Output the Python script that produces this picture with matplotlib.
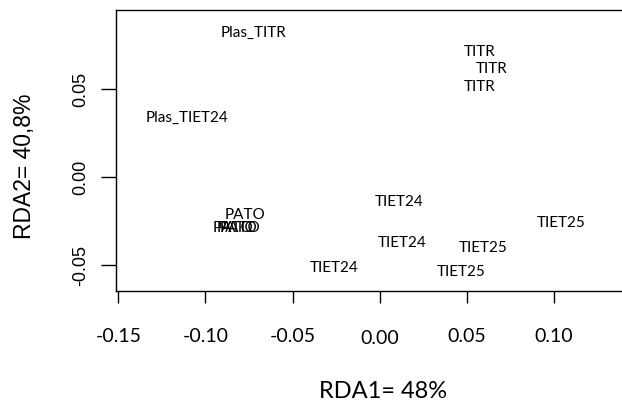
import matplotlib
matplotlib.use("Agg")
import matplotlib.pyplot as plt
import matplotlib.transforms as mtransforms

# Etiquetas y coordenadas RDA
etiquetas = ["Plas_TITR", "Plas_TIET24", "PATO", "PATO", "PATO", "PATO",
             "TIET24", "TIET24", "TIET24", "TIET25", "TIET25", "TIET25",
             "TITR", "TITR", "TITR"]
rda1 = [-0.0723, -0.1106, -0.0774, -0.0839, -0.0821, -0.0804,
        -0.0262, 0.0114, 0.0127, 0.0595, 0.0467, 0.1041,
        0.0576, 0.0644, 0.0576]
rda2 = [0.0821, 0.0337, -0.0216, -0.0288, -0.0288, -0.0288,
        -0.0518, -0.0140, -0.0377, -0.0405, -0.0539, -0.0263,
        0.0714, 0.0616, 0.0515]

xticks = [-0.15, -0.10, -0.05, 0.00, 0.05, 0.10]
yticks = [-0.05, 0.00, 0.05]

fig = plt.figure(figsize=(6.22, 4.01), dpi=100)
ax = fig.add_axes([0.186, 0.2743, 0.814, 0.7007])

for lab, x, y in zip(etiquetas, rda1, rda2):
    ax.text(x, y, lab, ha='center', va='center', fontsize=11, family='Lato')

ax.set_xlim(-0.1515, 0.1391)
ax.set_ylim(-0.0648, 0.0952)
ax.spines['right'].set_visible(False)
for s in ['left', 'top', 'bottom']:
    ax.spines[s].set_linewidth(1.0)

ax.set_xticks(xticks)
ax.set_xticklabels([f"{v:.2f}" for v in xticks], family='Lato', fontsize=14)
ax.set_yticks(yticks)
ax.set_yticklabels([f"{v:.2f}" for v in yticks], family='Liberation Sans',
                   fontsize=13, rotation=90, va='center')
ax.tick_params(axis='x', length=8.6, width=1.0, pad=18)
ax.tick_params(axis='y', length=10.8, width=1.0, pad=8)

# en el original la etiqueta 0.00 está un poco más abajo
lbl0 = ax.get_xticklabels()[3]
lbl0.set_transform(lbl0.get_transform() +
                   mtransforms.ScaledTranslation(0, -2 / 100, fig.dpi_scale_trans))

fig.text(383 / 622, 1 - 391 / 401, "RDA1= 48%", ha='center', va='center',
         family='Lato', fontsize=17)
fig.text(24 / 622, 1 - 166 / 401, "RDA2= 40,8%", ha='center', va='center',
         rotation=90, family='Liberation Sans', fontsize=16.5)

fig.savefig("out.png", dpi=100)
